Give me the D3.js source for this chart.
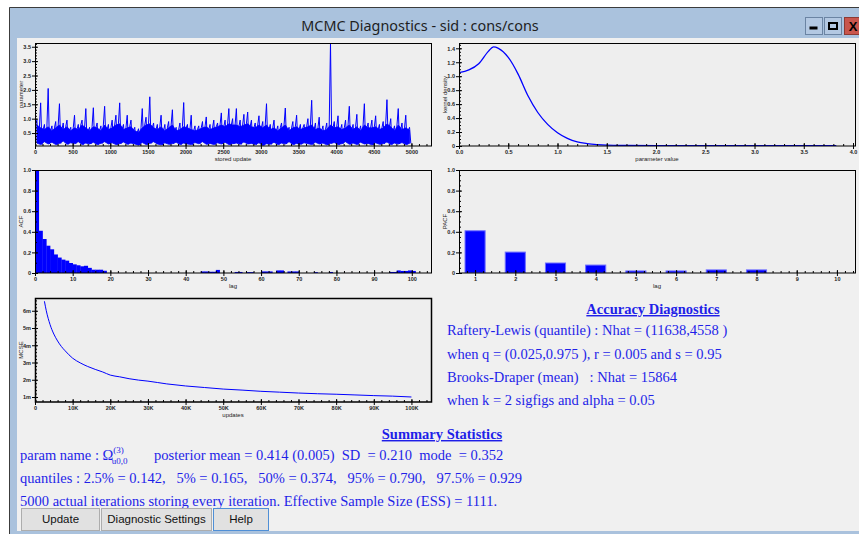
<!DOCTYPE html>
<html>
<head>
<meta charset="utf-8">
<title>MCMC Diagnostics</title>
<script src="https://d3js.org/d3.v7.min.js"></script>
<style>
  body { margin: 0; background: #fff; }
  svg text { font-family: "Liberation Sans", Arial, sans-serif; }
</style>
</head>
<body>
<svg width="859" height="534"></svg>
<script>
// trace: 100 bins of 50 stored updates
// high = tallest excursion in the bin, mid = top of the solid band, low = bottom of the band
const traceHigh = [0.95,1.55,0.8,2.05,0.75,0.9,1.52,0.85,0.95,0.7,
  1.12,0.8,0.95,1.35,0.7,1.38,0.85,0.75,1.43,0.8,
  0.95,1.12,1.55,0.8,1.12,0.95,0.7,0.65,1.35,1.05,
  1.76,0.85,0.8,1.12,0.8,0.9,1.31,0.7,0.85,1.56,
  0.8,1.12,0.75,0.75,0.9,1.06,0.8,0.95,0.85,1.2,
  0.95,1.35,1.0,1.35,0.95,1.15,1.23,0.95,0.85,1.1,
  0.9,1.52,0.8,0.95,0.75,0.85,1.37,0.7,0.9,1.12,
  0.8,0.8,1.0,1.64,0.85,1.05,0.75,0.85,3.63,0.9,
  1.1,0.8,0.95,1.43,0.8,1.15,0.75,1.52,0.85,0.95,
  1.1,0.8,0.9,1.66,1.0,0.75,1.35,0.85,1.12,0.7];
const traceMid = [0.78,0.68,0.62,0.72,0.58,0.68,0.78,0.62,0.72,0.58,
  0.68,0.62,0.78,0.68,0.58,0.72,0.68,0.58,0.78,0.62,
  0.68,0.78,0.82,0.62,0.68,0.72,0.58,0.52,0.68,0.78,
  0.82,0.68,0.62,0.72,0.58,0.68,0.78,0.58,0.62,0.72,
  0.68,0.62,0.58,0.62,0.68,0.72,0.62,0.68,0.72,0.78,
  0.72,0.82,0.78,0.78,0.72,0.78,0.82,0.72,0.68,0.78,
  0.68,0.78,0.62,0.68,0.58,0.68,0.78,0.58,0.68,0.72,
  0.62,0.68,0.72,0.78,0.62,0.68,0.58,0.62,0.78,0.68,
  0.72,0.62,0.68,0.78,0.62,0.72,0.58,0.78,0.68,0.68,
  0.72,0.62,0.68,0.82,0.72,0.58,0.78,0.62,0.68,0.6];
const traceLow = [0.15,0.1,0.2,0.12,0.18,0.1,0.14,0.22,0.11,0.16,
  0.13,0.2,0.1,0.15,0.12,0.18,0.1,0.14,0.2,0.12,
  0.16,0.1,0.13,0.19,0.11,0.15,0.12,0.08,0.17,0.1,
  0.14,0.2,0.12,0.09,0.16,0.11,0.13,0.18,0.1,0.15,
  0.12,0.1,0.17,0.13,0.2,0.11,0.14,0.1,0.16,0.12,
  0.18,0.1,0.13,0.15,0.11,0.19,0.12,0.14,0.1,0.16,
  0.07,0.13,0.11,0.18,0.1,0.15,0.12,0.2,0.1,0.14,
  0.11,0.16,0.13,0.1,0.18,0.12,0.15,0.09,0.14,0.17,
  0.1,0.13,0.2,0.11,0.15,0.1,0.18,0.12,0.14,0.09,
  0.16,0.11,0.13,0.19,0.1,0.15,0.12,0.17,0.1,0.14];
const traceBin = 50;

// kernel density
const densX = [0,0.1,0.2,0.3,0.35,0.4,0.5,0.6,0.7,0.8,0.9,1.0,1.1,1.2,1.3,1.4,1.5,1.7,2.0,2.5,3.0,3.5,3.83];
const densY = [1.05,1.09,1.18,1.36,1.42,1.40,1.27,1.03,0.72,0.48,0.31,0.19,0.11,0.06,0.035,0.02,0.012,0.008,0.006,0.005,0.005,0.005,0.005];

// ACF, lags 0..100
const acfVals = [1.0,0.41,0.33,0.265,0.23,0.18,0.15,0.13,0.12,0.097,
  0.084,0.075,0.065,0.07,0.05,0.032,0.032,0.032,0.022,0,
  0,0,0,0,0,0,0,0,0,0,
  0,0,0,0,0,0,0,0,0,0,
  0,0,0,0,0.015,0.015,0.012,0.012,0.03,0,
  0,0,0,0.01,0.01,0,0.008,0.008,0,0,
  0.015,0.015,0.015,0,0.025,0.025,0,0.015,0.015,0.015,
  0,0,0,0,0.008,0,0,0,0.01,0,
  0,0,0,0,0,0,0,0,0,0,
  0,0,0,0,0.01,0.01,0.025,0.02,0.02,0.025,
  0.02];

// PACF
const pacfLags = [1,2,3,4,5,6,7,8,9,10];
const pacfVals = [0.41,0.203,0.097,0.077,0.02,0.02,0.03,0.03,0,0];

// MCSE (updates in K, MCSE in 1e-3)
const mcseK = [2.5,3,4,5,6,7,8,10,12,14,16,18,20,22.5,25,27.5,30,35,40,45,50,55,60,65,70,75,80,85,90,95,100];
const mcseM = [6.55,6.0,5.2,4.65,4.25,3.93,3.68,3.25,2.98,2.77,2.6,2.45,2.27,2.17,2.06,1.98,1.92,1.76,1.64,1.55,1.46,1.4,1.33,1.28,1.23,1.19,1.16,1.12,1.08,1.05,1.0];

const svg = d3.select("svg");
const blue = "#0000ff";

// window chrome
svg.append("rect").attr("x", 9).attr("y", 7).attr("width", 850).attr("height", 527).attr("fill", "#aac2dd");
svg.append("path").attr("d", "M9.5,534V7.5H859").attr("fill", "none").attr("stroke", "#3c3c3c");
svg.append("rect").attr("x", 17).attr("y", 38).attr("width", 842).attr("height", 493).attr("fill", "#f0f0f0");
svg.append("text").attr("x", 420).attr("y", 31).attr("text-anchor", "middle")
  .style("font-family", "'Noto Sans', 'Open Sans', sans-serif").attr("font-size", 14.4).attr("fill", "#1e1e1e")
  .text("MCMC Diagnostics - sid : cons/cons");

const tb = svg.append("g");
tb.append("rect").attr("x", 805.5).attr("y", 17.5).attr("width", 17).attr("height", 17).attr("fill", "#b3c8e2").attr("stroke", "#6b84a3");
tb.append("rect").attr("x", 809.5).attr("y", 26.5).attr("width", 8).attr("height", 3).attr("fill", "#000");
tb.append("rect").attr("x", 824.5).attr("y", 17.5).attr("width", 17).attr("height", 17).attr("fill", "#b3c8e2").attr("stroke", "#6b84a3");
tb.append("rect").attr("x", 829).attr("y", 23).attr("width", 8).attr("height", 6).attr("fill", "none").attr("stroke", "#000").attr("stroke-width", 2);
tb.append("rect").attr("x", 844.5).attr("y", 17.5).attr("width", 20).attr("height", 17).attr("fill", "#c9564d").attr("stroke", "#8d3a33");
tb.append("text").attr("x", 853).attr("y", 31).attr("text-anchor", "middle").attr("font-size", 13).attr("font-weight", "bold").text("X");

// generic plot panel
function panel(left, top, w, h, xDom, yDom, o) {
  const g = svg.append("g").attr("transform", `translate(${left},${top})`);
  const x = d3.scaleLinear().domain(xDom).range([0, w]);
  const y = d3.scaleLinear().domain(yDom).range([h, 0]);
  g.append("rect").attr("width", w).attr("height", h).attr("fill", "#eeeeee");
  const id = "clip" + left + "_" + top;
  g.append("clipPath").attr("id", id).append("rect").attr("width", w).attr("height", h);
  const body = g.append("g").attr("clip-path", `url(#${id})`);

  const tick = (sel) => {
    sel.select(".domain").remove();
    sel.attr("font-size", 5.5).attr("font-family", "'Liberation Sans', Arial, sans-serif");
    sel.selectAll("text").attr("fill", "#222").attr("font-weight", "bold");
    sel.selectAll("line").attr("stroke", "#000");
  };
  const bx = g.append("g").attr("transform", `translate(0,${h})`);
  bx.append("g").call(d3.axisBottom(x).tickValues(o.xMinor).tickSize(-2).tickFormat("")).call(tick);
  bx.append("g").call(d3.axisBottom(x).tickValues(o.xMajor).tickSize(-3).tickFormat("")).call(tick);
  bx.append("g").call(d3.axisBottom(x).tickValues(o.xMajor).tickSize(3).tickPadding(1).tickFormat(o.xFmt)).call(tick);
  const ly = g.append("g");
  ly.append("g").call(d3.axisLeft(y).tickValues(o.yMinor).tickSize(-2).tickFormat("")).call(tick);
  ly.append("g").call(d3.axisLeft(y).tickValues(o.yMajor).tickSize(-3).tickFormat("")).call(tick);
  ly.append("g").call(d3.axisLeft(y).tickValues(o.yMajor).tickSize(3).tickPadding(1).tickFormat(o.yFmt)).call(tick);

  g.append("text").attr("x", w / 2).attr("y", h + 15).attr("text-anchor", "middle")
    .attr("font-size", 6).attr("fill", "#222").text(o.xTitle);
  g.append("text").attr("transform", `translate(-12,${h / 2}) rotate(-90)`).attr("text-anchor", "middle")
    .attr("font-size", 6).attr("fill", "#222").text(o.yTitle);

  const frame = g.append("rect").attr("x", 0.5).attr("y", 0.5).attr("width", w).attr("height", h - 0.5)
    .attr("fill", "none").attr("stroke", "#000");
  return { g: body, x, y, frame };
}
const range = (a, b, s) => d3.range(a, b + s / 2, s);

// trace plot
const p1 = panel(35, 43, 396, 103, [0, 5260], [0.05, 3.63], {
  xMajor: range(0, 5000, 500), xMinor: range(0, 5200, 100), xFmt: d3.format("d"),
  yMajor: range(0.5, 3.5, 0.5), yMinor: range(0.1, 3.6, 0.1), yFmt: d3.format(".1f"),
  xTitle: "stored update", yTitle: "parameter"
});
p1.g.append("path").datum(traceMid.map((v, i) => [i * traceBin + 25, traceLow[i], v]))
  .attr("d", d3.area().x(d => p1.x(d[0])).y0(d => p1.y(d[1])).y1(d => p1.y(d[2])))
  .attr("fill", blue).attr("stroke", blue).attr("stroke-width", 0.8);
const tracePts = traceHigh.flatMap((v, i) => [
  [i * traceBin + 8, traceMid[i]], [i * traceBin + 25, v], [i * traceBin + 42, traceLow[i]]
]);
p1.g.append("path").datum(tracePts)
  .attr("d", d3.line().x(d => p1.x(d[0])).y(d => p1.y(d[1])))
  .attr("fill", "none").attr("stroke", blue).attr("stroke-width", 1);

// kernel density
const p2 = panel(459, 43, 396, 103, [0, 4.02], [0, 1.476], {
  xMajor: range(0, 4, 0.5), xMinor: range(0, 4, 0.1), xFmt: d3.format(".1f"),
  yMajor: range(0, 1.4, 0.2), yMinor: range(0, 1.45, 0.05), yFmt: d => d === 0 ? "0" : d3.format(".1f")(d),
  xTitle: "parameter value", yTitle: "kernel density"
});
p2.g.append("path").datum(densX.map((v, i) => [v, densY[i]]))
  .attr("d", d3.line().curve(d3.curveMonotoneX).x(d => p2.x(d[0])).y(d => p2.y(d[1])))
  .attr("fill", "none").attr("stroke", blue).attr("stroke-width", 1.3);

// ACF
const p3 = panel(35, 170, 396, 103, [0, 105.1], [0, 1], {
  xMajor: range(0, 100, 10), xMinor: range(0, 104, 2), xFmt: d3.format("d"),
  yMajor: range(0, 1, 0.2), yMinor: range(0, 1, 0.1), yFmt: d => d === 0 ? "0" : d3.format(".1f")(d),
  xTitle: "lag", yTitle: "ACF"
});
p3.g.selectAll("rect.acf").data(acfVals).join("rect").attr("class", "acf")
  .attr("x", (d, i) => p3.x(i)).attr("width", p3.x(1) - p3.x(0) + 0.3)
  .attr("y", d => p3.y(d)).attr("height", d => p3.y(0) - p3.y(d))
  .attr("fill", blue);

// PACF
const p4 = panel(459, 170, 396, 103, [0.6, 10.45], [0, 1], {
  xMajor: pacfLags, xMinor: range(0.6, 10.4, 0.2), xFmt: d3.format("d"),
  yMajor: range(0, 1, 0.2), yMinor: range(0, 1, 0.05), yFmt: d => d === 0 ? "0" : d3.format(".1f")(d),
  xTitle: "lag", yTitle: "PACF"
});
p4.g.selectAll("rect.pacf").data(pacfVals).join("rect").attr("class", "pacf")
  .attr("x", (d, i) => p4.x(pacfLags[i] - 0.25)).attr("width", p4.x(1.25) - p4.x(0.75))
  .attr("y", d => p4.y(d)).attr("height", d => p4.y(0) - p4.y(d))
  .attr("fill", blue).attr("stroke", "#6f6fff").attr("stroke-width", 1);

// MCSE
const p5 = panel(35, 298, 396, 104, [0, 105.2], [0.71, 6.74], {
  xMajor: range(0, 100, 10), xMinor: range(0, 104, 2), xFmt: d => d === 0 ? "0" : d + "K",
  yMajor: range(1, 6, 1), yMinor: range(0.8, 6.6, 0.2), yFmt: d => d + "m",
  xTitle: "updates", yTitle: "MCSE"
});
p5.g.append("path").datum(mcseK.map((v, i) => [v, mcseM[i]]))
  .attr("d", d3.line().curve(d3.curveMonotoneX).x(d => p5.x(d[0])).y(d => p5.y(d[1])))
  .attr("fill", "none").attr("stroke", blue).attr("stroke-width", 1);
p5.frame.attr("stroke-width", 1.5);

// text panels
const serif = "'Liberation Serif', 'Times New Roman', serif";
const txt = (x, y, s, anchor) => svg.append("text").attr("x", x).attr("y", y)
  .attr("text-anchor", anchor || "start").style("font-family", serif).style("white-space", "pre")
  .attr("font-size", 14.5).attr("fill", "#1f1fe8").text(s);

txt(653, 314, "Accuracy Diagnostics", "middle").attr("font-weight", "bold").attr("text-decoration", "underline");
txt(447, 335, "Raftery-Lewis (quantile) : Nhat = (11638,4558 )");
txt(447, 359, "when q = (0.025,0.975 ), r = 0.005 and s = 0.95");
txt(447, 382, "Brooks-Draper (mean)   : Nhat = 15864");
txt(447, 405, "when k = 2 sigfigs and alpha = 0.05");

txt(442, 439, "Summary Statistics", "middle").attr("font-weight", "bold").attr("text-decoration", "underline");
const pn = txt(20, 460, "param name : \u03A9");
pn.append("tspan").attr("font-size", 9).attr("dy", -7).text("(3)");
pn.append("tspan").attr("font-size", 9).attr("dx", -12).attr("dy", 11).text("u0,0");
txt(154, 460, "posterior mean = 0.414 (0.005)  SD  = 0.210  mode  = 0.352");
txt(20, 483, "quantiles : 2.5% = 0.142,   5% = 0.165,   50% = 0.374,   95% = 0.790,   97.5% = 0.929");
txt(20, 506, "5000 actual iterations storing every iteration. Effective Sample Size (ESS) = 1111.");
svg.append("rect").attr("x", 17).attr("y", 508).attr("width", 842).attr("height", 23).attr("fill", "#f0f0f0");

// buttons
const buttons = [["Update", 21, 79], ["Diagnostic Settings", 101, 111], ["Help", 213, 56]];
buttons.forEach(([label, bx, bw], i) => {
  svg.append("rect").attr("x", bx + 0.5).attr("y", 508.5).attr("width", bw - 1).attr("height", 22)
    .attr("fill", "#e1e1e1").attr("stroke", i === 2 ? "#4f8fd6" : "#adadad");
  svg.append("text").attr("x", bx + bw / 2).attr("y", 523).attr("text-anchor", "middle")
    .style("font-family", "'Liberation Sans', Arial, sans-serif").attr("font-size", 11.5).attr("fill", "#111").text(label);
});
svg.append("rect").attr("x", 17).attr("y", 531).attr("width", 842).attr("height", 3).attr("fill", "#aac2dd");
</script>
</body>
</html>
